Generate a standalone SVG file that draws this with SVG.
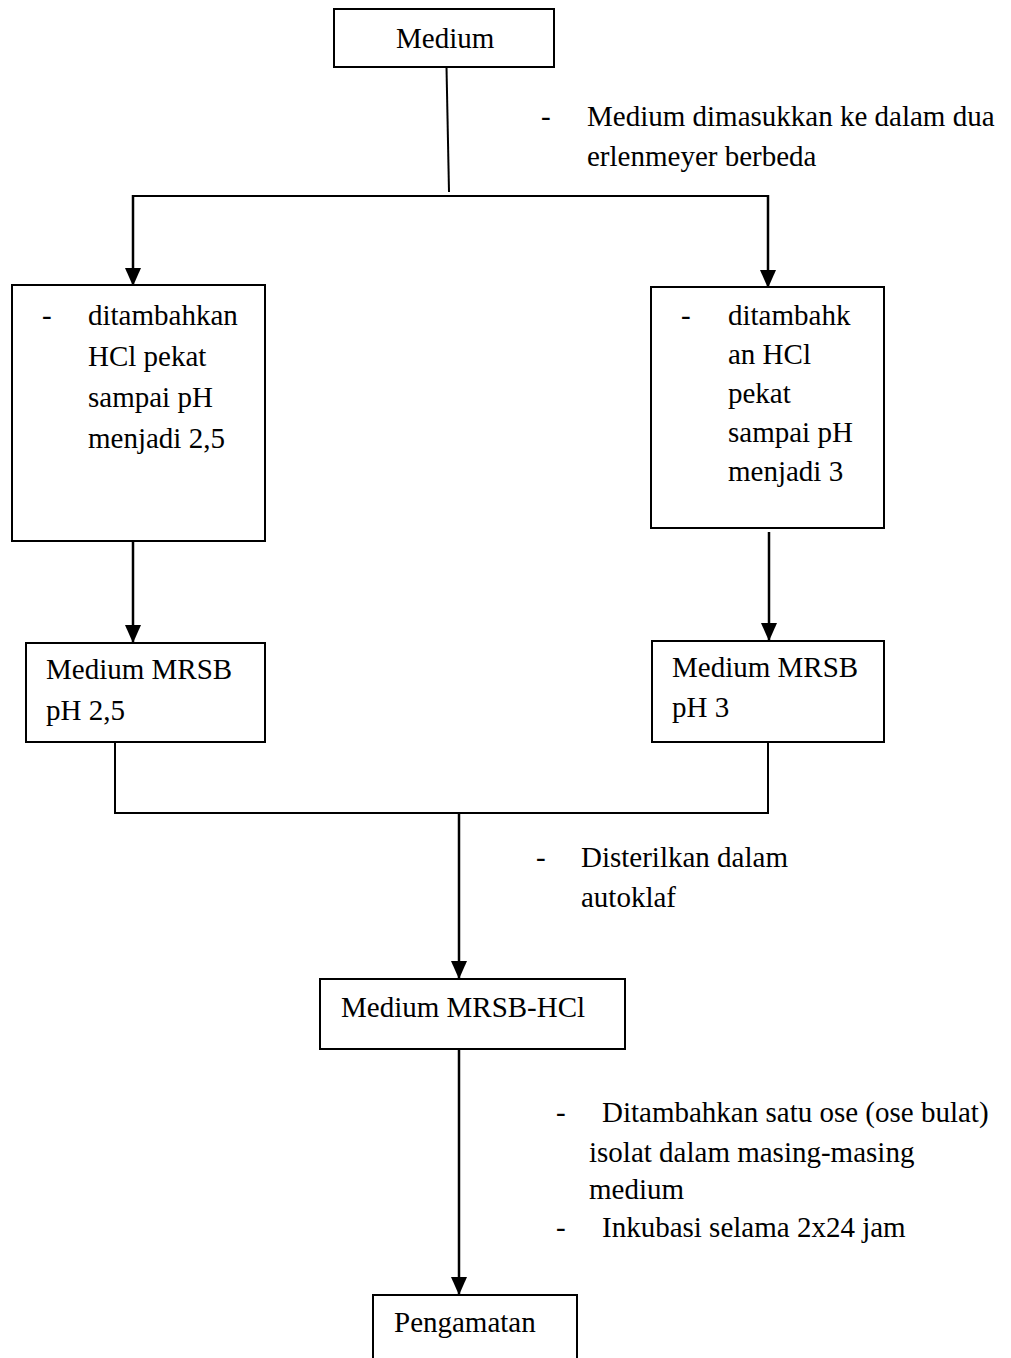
<svg xmlns="http://www.w3.org/2000/svg" width="1011" height="1358" viewBox="0 0 1011 1358">
<style>
  .box { fill: #ffffff; stroke: #000000; stroke-width: 2; }
  .line { fill: none; stroke: #000000; stroke-width: 2; }
  .arr { fill: none; stroke: #000000; stroke-width: 2.5; }
  text { font-family: "Liberation Serif", "Times New Roman", serif; font-size: 29px; fill: #000000; }
</style>
<defs>
  <marker id="arrowDown" markerUnits="userSpaceOnUse" markerWidth="18" markerHeight="16" refX="17" refY="8" orient="auto" viewBox="0 0 18 16">
    <path d="M0,0 L18,8 L0,16 Z" fill="#000000"/>
  </marker>
</defs>
<rect width="1011" height="1358" fill="#ffffff"/>

<g id="connectors">
  <line class="line" x1="446.5" y1="67" x2="449" y2="192"/>
  <line class="line" x1="132" y1="196" x2="769" y2="196"/>
  <line class="arr" x1="133" y1="195" x2="133" y2="285" marker-end="url(#arrowDown)"/>
  <line class="arr" x1="768" y1="195" x2="768" y2="287" marker-end="url(#arrowDown)"/>
  <line class="arr" x1="133" y1="541" x2="133" y2="642" marker-end="url(#arrowDown)"/>
  <line class="arr" x1="769" y1="532" x2="769" y2="640" marker-end="url(#arrowDown)"/>
  <polyline class="line" points="115,742 115,813 768,813 768,742"/>
  <line class="arr" x1="459" y1="813" x2="459" y2="978" marker-end="url(#arrowDown)"/>
  <line class="arr" x1="459" y1="1049" x2="459" y2="1294" marker-end="url(#arrowDown)"/>
</g>

<g id="node-medium">
  <rect class="box" x="334" y="9" width="220" height="58"/>
  <text x="396" y="48">Medium</text>
</g>

<g id="label-masuk">
  <text x="541" y="126">-</text>
  <text x="587" y="126">Medium dimasukkan ke dalam dua</text>
  <text x="587" y="166">erlenmeyer berbeda</text>
</g>

<g id="node-left-hcl">
  <rect class="box" x="12" y="285" width="253" height="256"/>
  <text x="42" y="325">-</text>
  <text x="88" y="325">ditambahkan</text>
  <text x="88" y="366">HCl pekat</text>
  <text x="88" y="407">sampai pH</text>
  <text x="88" y="448">menjadi 2,5</text>
</g>

<g id="node-right-hcl">
  <rect class="box" x="651" y="287" width="233" height="241"/>
  <text x="681" y="325">-</text>
  <text x="728" y="325">ditambahk</text>
  <text x="728" y="364">an HCl</text>
  <text x="728" y="403">pekat</text>
  <text x="728" y="442">sampai pH</text>
  <text x="728" y="481">menjadi 3</text>
</g>

<g id="node-mrsb-25">
  <rect class="box" x="26" y="643" width="239" height="99"/>
  <text x="46" y="679">Medium MRSB</text>
  <text x="46" y="720">pH 2,5</text>
</g>

<g id="node-mrsb-3">
  <rect class="box" x="652" y="641" width="232" height="101"/>
  <text x="672" y="677">Medium MRSB</text>
  <text x="672" y="717">pH 3</text>
</g>

<g id="label-steril">
  <text x="536" y="867">-</text>
  <text x="581" y="867">Disterilkan dalam</text>
  <text x="581" y="907">autoklaf</text>
</g>

<g id="node-mrsb-hcl">
  <rect class="box" x="320" y="979" width="305" height="70"/>
  <text x="341" y="1017">Medium MRSB-HCl</text>
</g>

<g id="label-inokulasi">
  <text x="556" y="1122">-</text>
  <text x="602" y="1122">Ditambahkan satu ose (ose bulat)</text>
  <text x="589" y="1162">isolat dalam masing-masing</text>
  <text x="589" y="1199">medium</text>
  <text x="556" y="1237">-</text>
  <text x="602" y="1237">Inkubasi selama 2x24 jam</text>
</g>

<g id="node-pengamatan">
  <rect class="box" x="373" y="1295" width="204" height="80"/>
  <text x="394" y="1332">Pengamatan</text>
</g>
</svg>
